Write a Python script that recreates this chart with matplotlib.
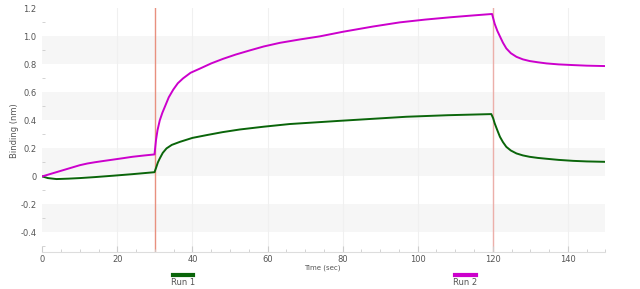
import matplotlib
matplotlib.use("Agg")
import matplotlib.pyplot as plt
from matplotlib.lines import Line2D

# Run 2 (magenta) - baseline, association (30-120 s), dissociation (120-150 s)
run2_t = [0, 2, 4, 6, 8, 10, 12, 14, 16, 18.9, 21.5, 24, 27, 29.9,
          30.3, 30.7, 31.3, 32, 32.7, 33.7, 34.9, 36.1, 37.5, 39.5, 42, 45, 48.2,
          51.5, 55.3, 59, 63.3, 68.6, 73.9, 80.1, 88, 95.2, 102, 108.5, 114, 119.8,
          120.2, 120.5, 121.2, 121.9, 122.7, 123.6, 124.8, 126.3, 128, 129.8, 132,
          134.3, 137.5, 141.4, 145, 150]
run2_v = [0, 0.016, 0.032, 0.048, 0.064, 0.08, 0.092, 0.101, 0.109, 0.12, 0.13,
          0.14, 0.149, 0.157,
          0.26, 0.33, 0.40, 0.455, 0.50, 0.565, 0.62, 0.665, 0.70, 0.74, 0.77, 0.807,
          0.84, 0.87, 0.90, 0.928, 0.954, 0.978, 1.0, 1.033, 1.07, 1.10, 1.12, 1.136,
          1.148, 1.16,
          1.12, 1.09, 1.04, 1.0, 0.955, 0.914, 0.88, 0.854, 0.836, 0.824, 0.815,
          0.807, 0.80, 0.795, 0.791, 0.788]

# Run 1 (green)
run1_t = [0, 1.5, 3.8, 7, 10, 14, 18.9, 24, 29.9,
          30.3, 30.8, 31.3, 32.1, 33.1, 34.5, 36.7, 40, 43.8, 48, 52.6, 59, 65.9,
          79.3, 97, 108, 119.6,
          120.1, 120.5, 121.2, 121.9, 122.7, 123.6, 124.8, 126.3, 128, 129.8, 132,
          134.3, 137.5, 141.4, 145, 150]
run1_v = [0, -0.012, -0.019, -0.016, -0.012, -0.005, 0.005, 0.016, 0.03,
          0.06, 0.10, 0.128, 0.168, 0.2, 0.225, 0.247, 0.275, 0.295, 0.316, 0.335,
          0.355, 0.374, 0.397, 0.426, 0.437, 0.445,
          0.415, 0.379, 0.33, 0.283, 0.245, 0.211, 0.185, 0.164, 0.15, 0.14, 0.132,
          0.126, 0.118, 0.111, 0.107, 0.104]

step_times = [30, 120]
yticks = [-0.4, -0.2, 0, 0.2, 0.4, 0.6, 0.8, 1.0, 1.2]
yticklabels = ["-0.4", "-0.2", "0", "0.2", "0.4", "0.6", "0.8", "1.0", "1.2"]
xticks = [0, 20, 40, 60, 80, 100, 120, 140]

MAGENTA = "#CC00CC"
GREEN = "#0A650A"
TICK = "#555555"

fig = plt.figure(figsize=(6.4, 2.89), dpi=100)
ax = fig.add_axes([0.066, 0.128, 0.880, 0.843])
ax.set_xlim(0, 150)
ax.set_ylim(-0.54, 1.2)

# alternating grey bands
for lo, hi in zip(yticks[::2], yticks[1::2]):
    ax.axhspan(lo, hi, color="#F6F6F6", lw=0, zorder=0)
for x in xticks[1:]:
    ax.axvline(x, color="#F0F0F0", lw=0.8, zorder=0.5)

# step boundaries
ax.axvline(step_times[0], color="#E8907F", lw=1.0, zorder=1)
ax.axvline(step_times[1], color="#ECAFAA", lw=1.0, zorder=1)

ax.plot(run1_t, run1_v, color=GREEN, lw=1.4, zorder=3)
ax.plot(run2_t, run2_v, color=MAGENTA, lw=1.4, zorder=3)

for s in ("top", "right", "left"):
    ax.spines[s].set_visible(False)
ax.spines["bottom"].set_color("#DDDDDD")
ax.spines["bottom"].set_linewidth(0.8)

ax.set_xticks(xticks)
ax.set_xticks(range(0, 151, 5), minor=True)
ax.set_yticks(yticks)
ax.set_yticklabels(yticklabels)
ax.set_yticks([v / 10 for v in range(-5, 13)], minor=True)
ax.tick_params(axis="both", which="both", direction="in", colors="#CCCCCC",
               labelcolor=TICK, labelsize=6)
ax.tick_params(axis="x", which="major", length=4, pad=2)
ax.tick_params(axis="x", which="minor", length=2.5)
ax.tick_params(axis="y", which="major", length=0, pad=4)
ax.tick_params(axis="y", which="minor", length=2.5)

ax.set_ylabel("Binding (nm)", fontsize=6, color=TICK, labelpad=1)
fig.text(0.503, 0.074, "Time (sec)", fontsize=5, color=TICK, ha="center", va="center")

# legend below plot: line over label
for xc, name, col in [(0.286, "Run 1", GREEN), (0.727, "Run 2", MAGENTA)]:
    fig.add_artist(Line2D([xc - 0.016, xc + 0.016], [0.050, 0.050], color=col, lw=3,
                          transform=fig.transFigure))
    fig.text(xc, 0.021, name, fontsize=6, color=TICK, ha="center", va="center")

fig.savefig("out.png", dpi=100)
